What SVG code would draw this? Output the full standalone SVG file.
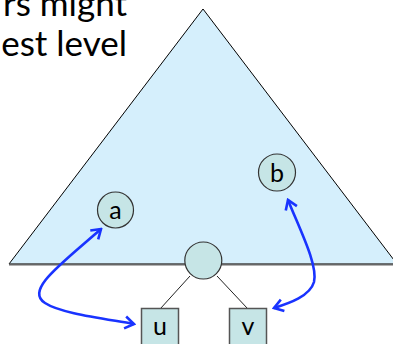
<svg xmlns="http://www.w3.org/2000/svg" width="393" height="344" viewBox="0 0 393 344">
<style>
.cap{font-family:"Lato","Open Sans",sans-serif;font-size:35px;fill:#000}
.node{fill:#c6e5e6;stroke:#333;stroke-width:1.2}
.box{fill:#c6e5e6;stroke:#555;stroke-width:1.5}
.lbl{font-family:"Lato","Open Sans",sans-serif;font-size:25px;fill:#000;text-anchor:middle}
.edge{stroke:#222;stroke-width:1;fill:none}
.arr{stroke:#1933ff;stroke-width:2.6;fill:none;marker-start:url(#ah);marker-end:url(#ah)}
</style>
<defs>
<marker id="ah" markerUnits="userSpaceOnUse" viewBox="-12 -8 14 16" markerWidth="14" markerHeight="16" refX="0" refY="0" orient="auto-start-reverse">
<path d="M-9,-6 L0,0 L-9,6" fill="none" stroke="#1933ff" stroke-width="2.6" stroke-linejoin="miter"/>
</marker>
</defs>
<text class="cap" x="127" y="16" text-anchor="end">rs might</text>
<text class="cap" x="127" y="56" text-anchor="end">est level</text>
<g id="tree">
<polygon points="203,9 9,264 397,264" fill="#d5effc" stroke="#000" stroke-width="1"/>
<line x1="9" y1="264.5" x2="393" y2="264.5" stroke="#666" stroke-width="2"/>
</g>
<g id="connectors">
<line class="edge" x1="190" y1="276" x2="160.5" y2="308.5"/>
<line class="edge" x1="217" y1="276" x2="247.5" y2="308.5"/>
<path class="arr" d="M101,229 C 60,265 25,290 45,303 C 60,313 100,318 134,324"/>
<path class="arr" d="M288,200 C 300,230 318,265 314,282 C 310,296 290,303 274,308"/>
</g>
<g id="node-a"><circle class="node" cx="115.5" cy="210" r="18"/><text class="lbl" x="115.5" y="218.5">a</text></g>
<g id="node-b"><circle class="node" cx="277" cy="172.5" r="18.5"/><text class="lbl" x="277" y="181.5">b</text></g>
<g id="node-root"><circle class="node" cx="203.3" cy="260.5" r="18.5"/></g>
<g id="node-u"><rect class="box" x="141.5" y="308.5" width="37" height="40"/><text class="lbl" x="160" y="335">u</text></g>
<g id="node-v"><rect class="box" x="229.5" y="308.5" width="37" height="40"/><text class="lbl" x="248" y="335">v</text></g>
</svg>
